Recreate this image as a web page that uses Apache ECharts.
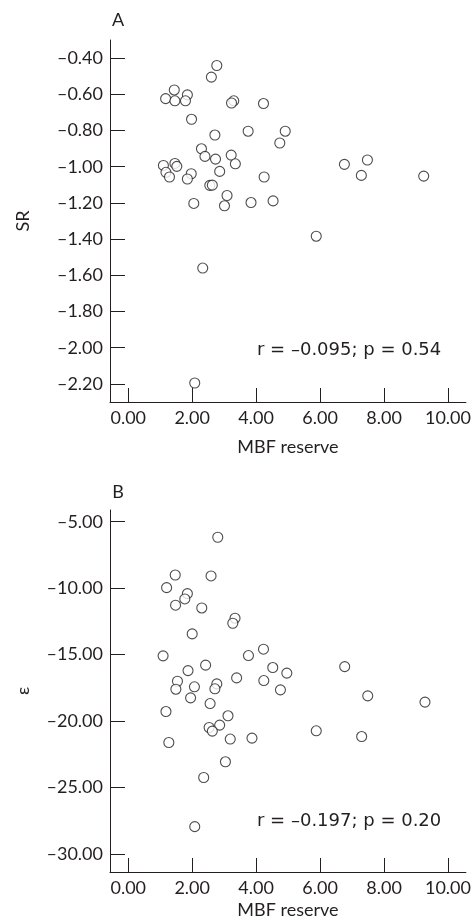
<!DOCTYPE html>
<html>
<head>
<meta charset="utf-8">
<script src="https://cdn.jsdelivr.net/npm/echarts@6/dist/echarts.min.js"></script>
<style>
html,body{margin:0;padding:0;background:#fff;}
#chart{width:474px;height:924px;}
</style>
</head>
<body>
<div id="chart"></div>
<script>
// Panel A: SR vs MBF reserve
const topX = [2.77,2.60,1.44,1.17,1.46,1.85,1.79,3.30,3.23,4.23,1.98,3.75,4.91,2.71,4.74,2.29,3.22,2.40,2.73,3.35,7.48,6.76,7.29,9.24,1.10,1.46,1.52,1.18,1.29,1.97,1.85,2.86,2.55,2.63,4.25,3.09,2.05,3.01,3.84,4.53,5.88,2.33,2.08];
const topY = [-0.441,-0.505,-0.576,-0.624,-0.636,-0.603,-0.636,-0.636,-0.648,-0.651,-0.738,-0.804,-0.804,-0.825,-0.869,-0.901,-0.936,-0.943,-0.958,-0.984,-0.963,-0.987,-1.048,-1.052,-0.993,-0.982,-0.998,-1.031,-1.057,-1.039,-1.068,-1.026,-1.103,-1.102,-1.057,-1.159,-1.203,-1.216,-1.198,-1.189,-1.384,-1.560,-2.195];
// Panel B: epsilon vs MBF reserve
const bottomX = [2.80,1.47,2.59,1.20,1.85,1.77,1.48,2.30,3.34,3.27,2.00,1.09,3.76,4.23,2.42,1.87,6.77,4.52,4.96,3.39,1.54,4.24,2.77,1.49,2.07,2.71,4.76,1.95,7.49,9.28,2.56,1.18,3.12,2.53,2.86,2.63,5.88,7.30,1.27,3.19,3.87,3.04,2.36,2.08];
const bottomY = [-6.17,-9.01,-9.08,-9.96,-10.41,-10.81,-11.28,-11.49,-12.26,-12.64,-13.44,-15.09,-15.07,-14.59,-15.79,-16.20,-15.90,-15.97,-16.39,-16.75,-17.00,-16.95,-17.20,-17.60,-17.42,-17.57,-17.65,-18.25,-18.10,-18.57,-18.68,-19.28,-19.60,-20.48,-20.30,-20.75,-20.73,-21.16,-21.61,-21.35,-21.28,-23.06,-24.24,-27.94];

const xTicks = [0, 2, 4, 6, 8, 10];
const topYTicks = [-2.2, -2.0, -1.8, -1.6, -1.4, -1.2, -1.0, -0.8, -0.6, -0.4];
const bottomYTicks = [-30, -25, -20, -15, -10, -5];

const panelLabels = ['A', 'B'];
const xName = 'MBF reserve';
const yNames = ['SR', 'ε'];
const statTexts = ['r = –0.095; p = 0.54', 'r = –0.197; p = 0.20'];

const FONT = 'Lato, "DejaVu Sans", sans-serif';
const STATFONT = '"DejaVu Sans", sans-serif';
const INK = '#231f20';
const FS = 18;
const fmt = v => v.toFixed(2).replace('-', '–');

function pairs(xs, ys) { return xs.map((x, i) => [x, ys[i]]); }

function xAxisCfg(gi, gap) {
  return {
    gridIndex: gi, type: 'value', min: -0.57, max: 10.56,
    name: xName, nameLocation: 'middle', nameGap: gap,
    nameTextStyle: { fontFamily: FONT, fontSize: FS, color: INK },
    axisLine: { onZero: false, lineStyle: { color: INK, width: 1 } },
    axisTick: { show: true, inside: true, length: 14, customValues: xTicks, lineStyle: { color: INK, width: 1 } },
    axisLabel: { customValues: xTicks, formatter: fmt, margin: 7, fontFamily: FONT, fontSize: FS, color: INK },
    splitLine: { show: false }
  };
}
function yAxisCfg(gi, min, max, ticks, name) {
  return {
    gridIndex: gi, type: 'value', min: min, max: max,
    name: name, nameLocation: 'middle', nameGap: 78, nameRotate: 90,
    nameTextStyle: { fontFamily: FONT, fontSize: FS, color: INK },
    axisLine: { onZero: false, lineStyle: { color: INK, width: 1 } },
    axisTick: { show: true, inside: true, length: 15, customValues: ticks, lineStyle: { color: INK, width: 1 } },
    axisLabel: { customValues: ticks, formatter: fmt, margin: 7, fontFamily: FONT, fontSize: FS, color: INK },
    splitLine: { show: false }
  };
}

const scatterStyle = { color: '#fff', borderColor: INK, borderWidth: 1.1 };

const chart = echarts.init(document.getElementById('chart'), null, { renderer: 'canvas' });
chart.setOption({
  backgroundColor: '#fff',
  animation: false,
  grid: [
    { left: 110, top: 40, width: 358, height: 362 },
    { left: 110, top: 510, width: 358, height: 362 }
  ],
  xAxis: [xAxisCfg(0, 36), xAxisCfg(1, 29)],
  yAxis: [
    yAxisCfg(0, -2.3, -0.3, topYTicks, yNames[0]),
    yAxisCfg(1, -31.35, -4.12, bottomYTicks, yNames[1])
  ],
  graphic: [
    { type: 'text', x: 118, y: 20, style: { text: panelLabels[0], font: FS + 'px ' + FONT, fill: INK, textAlign: 'center', textVerticalAlign: 'middle' } },
    { type: 'text', x: 118, y: 492, style: { text: panelLabels[1], font: FS + 'px ' + FONT, fill: INK, textAlign: 'center', textVerticalAlign: 'middle' } },
    { type: 'text', x: 257, y: 350, style: { text: statTexts[0], font: '18px ' + STATFONT, fill: INK, textAlign: 'left', textVerticalAlign: 'middle' } },
    { type: 'text', x: 257, y: 821, style: { text: statTexts[1], font: '18px ' + STATFONT, fill: INK, textAlign: 'left', textVerticalAlign: 'middle' } }
  ],
  series: [
    { type: 'scatter', xAxisIndex: 0, yAxisIndex: 0, symbol: 'circle', symbolSize: 10, itemStyle: scatterStyle, data: pairs(topX, topY) },
    { type: 'scatter', xAxisIndex: 1, yAxisIndex: 1, symbol: 'circle', symbolSize: 10, itemStyle: scatterStyle, data: pairs(bottomX, bottomY) }
  ]
});
</script>
</body>
</html>
